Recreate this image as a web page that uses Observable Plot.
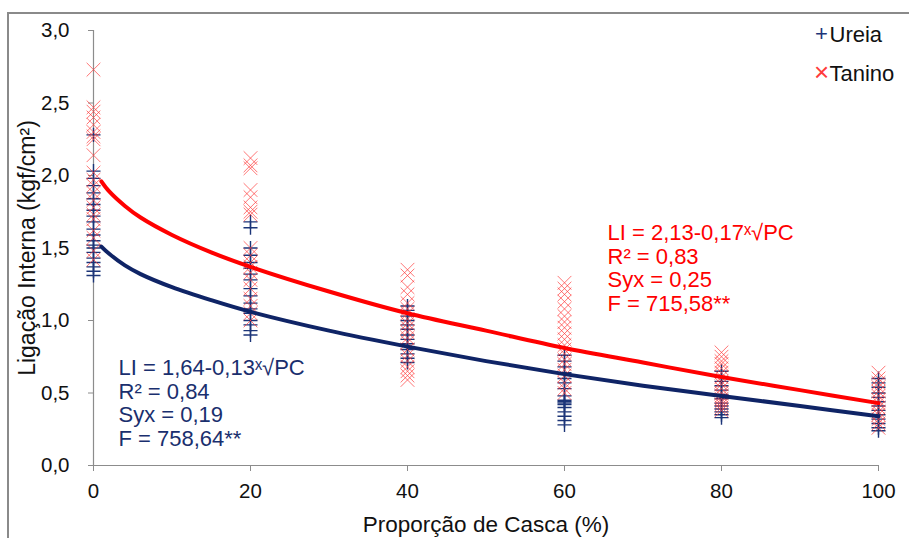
<!DOCTYPE html>
<html>
<head>
<meta charset="utf-8">
<script src="https://cdn.jsdelivr.net/npm/d3@7"></script>
<script src="https://cdn.jsdelivr.net/npm/@observablehq/plot@0.6"></script>
<style>
  html, body { margin: 0; padding: 0; background: #fff; }
  #chart { width: 909px; height: 538px; overflow: hidden; }
</style>
</head>
<body>
<div id="chart"></div>
<script>
// ---- data ----
const pcLevels = [0, 20, 40, 60, 80, 100];
const xTicks = [0, 20, 40, 60, 80, 100];
const yTicks = [0, 0.5, 1.0, 1.5, 2.0, 2.5, 3.0];

// Ureia (+) observations at each proportion of bark
const ureia_0   = [2.28, 2.03, 1.98, 1.93, 1.88, 1.84, 1.80, 1.76, 1.72, 1.68, 1.63, 1.59, 1.55, 1.52, 1.50, 1.47, 1.43, 1.40, 1.37, 1.34, 1.31];
const ureia_20  = [1.68, 1.64, 1.50, 1.45, 1.40, 1.36, 1.32, 1.28, 1.22, 1.17, 1.12, 1.08, 1.05, 1.00, 0.97, 0.93, 0.90];
const ureia_40  = [1.10, 1.07, 1.03, 1.00, 0.97, 0.94, 0.90, 0.87, 0.84, 0.80, 0.77, 0.74, 0.71];
const ureia_60  = [0.76, 0.72, 0.68, 0.64, 0.60, 0.57, 0.53, 0.48, 0.45, 0.44, 0.43, 0.42, 0.40, 0.37, 0.34, 0.31, 0.28];
const ureia_80  = [0.65, 0.61, 0.58, 0.55, 0.52, 0.49, 0.46, 0.43, 0.41, 0.39, 0.37, 0.35, 0.33];
const ureia_100 = [0.60, 0.57, 0.54, 0.50, 0.47, 0.44, 0.41, 0.38, 0.35, 0.32, 0.29, 0.26, 0.24];

// Tanino (×) observations
const tanino_0   = [2.73, 2.47, 2.44, 2.40, 2.35, 2.30, 2.27, 2.25, 2.14, 2.02, 1.97, 1.93, 1.88, 1.83, 1.78, 1.73, 1.70, 1.62, 1.57, 1.48, 1.42];
const tanino_20  = [2.12, 2.07, 2.05, 1.90, 1.85, 1.78, 1.75, 1.73, 1.50, 1.45, 1.40, 1.37, 1.33, 1.28, 1.22, 1.15, 1.10, 1.05, 1.00];
const tanino_40  = [1.35, 1.31, 1.23, 1.18, 1.12, 1.08, 1.05, 1.01, 0.98, 0.95, 0.92, 0.88, 0.85, 0.80, 0.76, 0.72, 0.68, 0.65, 0.62, 0.59];
const tanino_60  = [1.26, 1.22, 1.18, 1.13, 1.08, 1.03, 0.99, 0.95, 0.91, 0.87, 0.83, 0.80, 0.77, 0.73, 0.70, 0.66, 0.62, 0.57, 0.53, 0.50];
const tanino_80  = [0.78, 0.75, 0.72, 0.70, 0.67, 0.64, 0.61, 0.58, 0.56, 0.53, 0.50, 0.48, 0.46, 0.44, 0.42, 0.40, 0.38];
const tanino_100 = [0.64, 0.60, 0.57, 0.54, 0.51, 0.48, 0.45, 0.43, 0.40, 0.37, 0.35, 0.32, 0.29, 0.26];

// fitted curves, values
const curvePC     = [1, 2, 4, 6, 10, 15, 20, 30, 40, 50, 60, 70, 80, 90, 100];
const curveUreia  = [1.51, 1.46, 1.38, 1.32, 1.23, 1.14, 1.06, 0.93, 0.82, 0.72, 0.63, 0.55, 0.48, 0.41, 0.34];
const curveTanino = [1.96, 1.89, 1.79, 1.71, 1.59, 1.47, 1.37, 1.20, 1.05, 0.93, 0.81, 0.71, 0.61, 0.52, 0.43];

const legendLabels = ["Ureia", "Tanino"];
const textTanino = "LI = 2,13-0,17ˣ√PC\nR² = 0,83\nSyx = 0,25\nF = 715,58**";
const textUreia  = "LI = 1,64-0,13ˣ√PC\nR² = 0,84\nSyx = 0,19\nF = 758,64**";
const xTitle = "Proporção de Casca (%)";
const yTitle = "Ligação Interna (kgf/cm²)";

// ---- build tables ----
const ureiaSets = [ureia_0, ureia_20, ureia_40, ureia_60, ureia_80, ureia_100];
const taninoSets = [tanino_0, tanino_20, tanino_40, tanino_60, tanino_80, tanino_100];
const ureiaPts = ureiaSets.flatMap((arr, i) => arr.map(v => ({pc: pcLevels[i], li: v})));
const taninoPts = taninoSets.flatMap((arr, i) => arr.map(v => ({pc: pcLevels[i], li: v})));
const fitU = curvePC.map((pc, i) => ({pc, li: curveUreia[i]}));
const fitT = curvePC.map((pc, i) => ({pc, li: curveTanino[i]}));

const BLUE = "#0f2466";
const BLUE_PT = "#1c3578";
const BLUE_TXT = "#1a2f6e";
const RED = "#ff0000";
const RED_PT = "#ff3b3b";
const AXIS = "#8c8c8c";
const fmt = d => d.toFixed(1).replace(".", ",");

const plot = Plot.plot({
  width: 909,
  height: 538,
  marginLeft: 93,
  marginRight: 31,
  marginTop: 30,
  marginBottom: 73,
  style: "font-family: 'Liberation Sans', Arial, sans-serif; font-size: 20.5px; background: #fff; color: #111;",
  x: {domain: [0, 100]},
  y: {domain: [0, 3]},
  marks: [
    Plot.ruleX([0], {stroke: AXIS, strokeWidth: 1.2}),
    Plot.ruleY([0], {stroke: AXIS, strokeWidth: 1.2}),
    Plot.axisY({ticks: yTicks, tickFormat: fmt, tickSize: 5, tickPadding: 19, stroke: AXIS, label: null, fill: "#111", fontSize: 20.5}),
    Plot.axisX({ticks: xTicks, tickFormat: d => String(d), tickSize: 6, tickPadding: 12, stroke: AXIS, label: null, fill: "#111", fontSize: 20.5}),
    Plot.dot(ureiaPts, {x: "pc", y: "li", symbol: "plus", r: 4.6, stroke: BLUE_PT, strokeWidth: 1.4}),
    Plot.dot(taninoPts, {x: "pc", y: "li", symbol: "times", r: 6.3, stroke: RED_PT, strokeWidth: 1, strokeOpacity: 0.7}),
    Plot.line(fitU, {x: "pc", y: "li", stroke: BLUE, strokeWidth: 4, curve: "catmull-rom"}),
    Plot.line(fitT, {x: "pc", y: "li", stroke: RED, strokeWidth: 4, curve: "catmull-rom"}),
    Plot.text([textTanino], {text: d => d, frameAnchor: "top-left", textAnchor: "start", lineAnchor: "top", dx: 514, dy: 193, fill: RED, fontSize: 22, lineHeight: 1.07}),
    Plot.text([textUreia], {text: d => d, frameAnchor: "top-left", textAnchor: "start", lineAnchor: "top", dx: 25, dy: 328, fill: BLUE_TXT, fontSize: 22, lineHeight: 1.07}),
    // legend
    Plot.text(["+"], {text: d => d, frameAnchor: "top-right", textAnchor: "middle", lineAnchor: "middle", dx: -57, dy: 3, fill: BLUE_PT, fontSize: 22}),
    Plot.text([legendLabels[0]], {text: d => d, frameAnchor: "top-right", textAnchor: "start", lineAnchor: "middle", dx: -49, dy: 4, fill: "#111", fontSize: 22}),
    Plot.text(["×"], {text: d => d, frameAnchor: "top-right", textAnchor: "middle", lineAnchor: "middle", dx: -57, dy: 42, fill: RED_PT, fontSize: 26}),
    Plot.text([legendLabels[1]], {text: d => d, frameAnchor: "top-right", textAnchor: "start", lineAnchor: "middle", dx: -49, dy: 43, fill: "#111", fontSize: 22}),
    // axis titles
    Plot.text([xTitle], {text: d => d, frameAnchor: "bottom", textAnchor: "middle", lineAnchor: "middle", dy: 59, fill: "#111", fontSize: 22.5}),
    Plot.text([yTitle], {text: d => d, frameAnchor: "left", textAnchor: "middle", lineAnchor: "middle", rotate: -90, dx: -66, fill: "#111", fontSize: 23})
  ]
});

// decorative chart-area border
d3.select(plot).append("rect")
  .attr("x", 8).attr("y", 13).attr("width", 1200).attr("height", 1200)
  .attr("fill", "none").attr("stroke", "#8a8a8a").attr("stroke-width", 2);

document.getElementById("chart").appendChild(plot);
</script>
</body>
</html>
